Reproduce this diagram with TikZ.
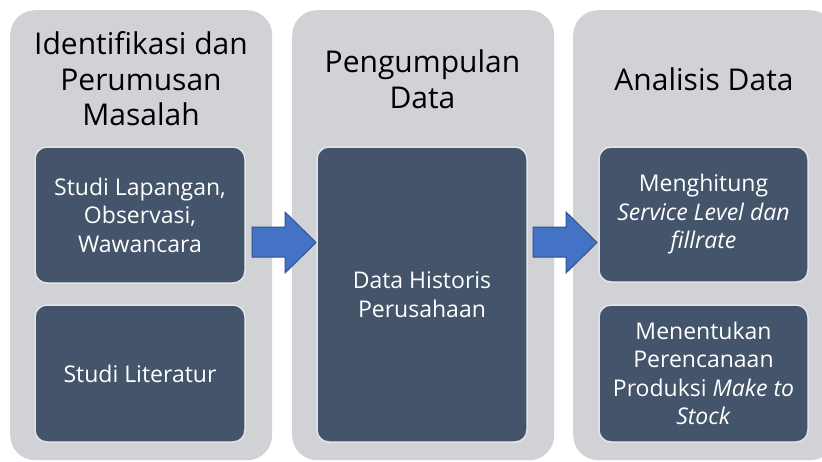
\documentclass[tikz,border=0pt]{standalone}
\usepackage{fontspec}
\setmainfont{Open Sans}
\definecolor{panelgrey}{RGB}{209,210,214}
\definecolor{boxfill}{HTML}{44546A}
\definecolor{boxedge}{RGB}{228,229,232}
\definecolor{arrowfill}{HTML}{4472C4}
\definecolor{arrowedge}{HTML}{2F528F}
\begin{document}
\begin{tikzpicture}[x=1pt,y=-1pt,
  panel/.style={fill=panelgrey, rounded corners=25pt, minimum width=262pt,
    minimum height=450pt, inner sep=0pt, anchor=north west},
  title/.style={align=center, font=\fontsize{30}{35.5}\selectfont,
    text=black, inner sep=0pt},
  stage/.style={fill=boxfill, draw=boxedge, line width=1.5pt,
    rounded corners=12pt, text=white, align=center,
    font=\fontsize{23}{28.5}\selectfont, inner sep=0pt, minimum width=210pt},
  blockarrow/.style={fill=arrowfill, draw=arrowedge, line width=1pt,
    line join=miter}]
\useasboundingbox (0,0) rectangle (822,461);
\clip (0,0) rectangle (822,461);

% three phase panels
\node[panel] (p1) at (10,10) {};
\node[panel] (p2) at (292,10) {};
\node[panel] (p3) at (573,10) {};

% phase titles
\node[title] (t1) at (141,79) {Identifikasi dan\\Perumusan\\Masalah};
\node[title] (t2) at (422.5,79) {Pengumpulan\\Data};
\node[title] (t3) at (704,79) {Analisis Data};

% activities within each phase
\node[stage, minimum height=136pt] (s1) at (140,215)
  {Studi Lapangan,\\Observasi,\\Wawancara};
\node[stage, minimum height=137pt] (s2) at (140,373.5) {Studi Literatur};
\node[stage, minimum height=295pt] (s3) at (422,294.5)
  {Data Historis\\Perusahaan};
\node[stage, minimum width=209pt, minimum height=135pt] (s4) at (703.5,214.5)
  {Menghitung\\\textit{Service Level dan}\\\textit{fillrate}};
\node[stage, minimum width=209pt, minimum height=137pt] (s5) at (703.5,373.5)
  {Menentukan\\Perencanaan\\Produksi \textit{Make to}\\\textit{Stock}};

% block arrows between phases
\draw[blockarrow] (252,227) -- (285,227) -- (285,212) -- (316,242.5)
  -- (285,273) -- (285,257) -- (252,257) -- cycle;
\draw[blockarrow] (533,227) -- (566,227) -- (566,212) -- (597,242.5)
  -- (566,273) -- (566,257) -- (533,257) -- cycle;
\end{tikzpicture}
\end{document}
